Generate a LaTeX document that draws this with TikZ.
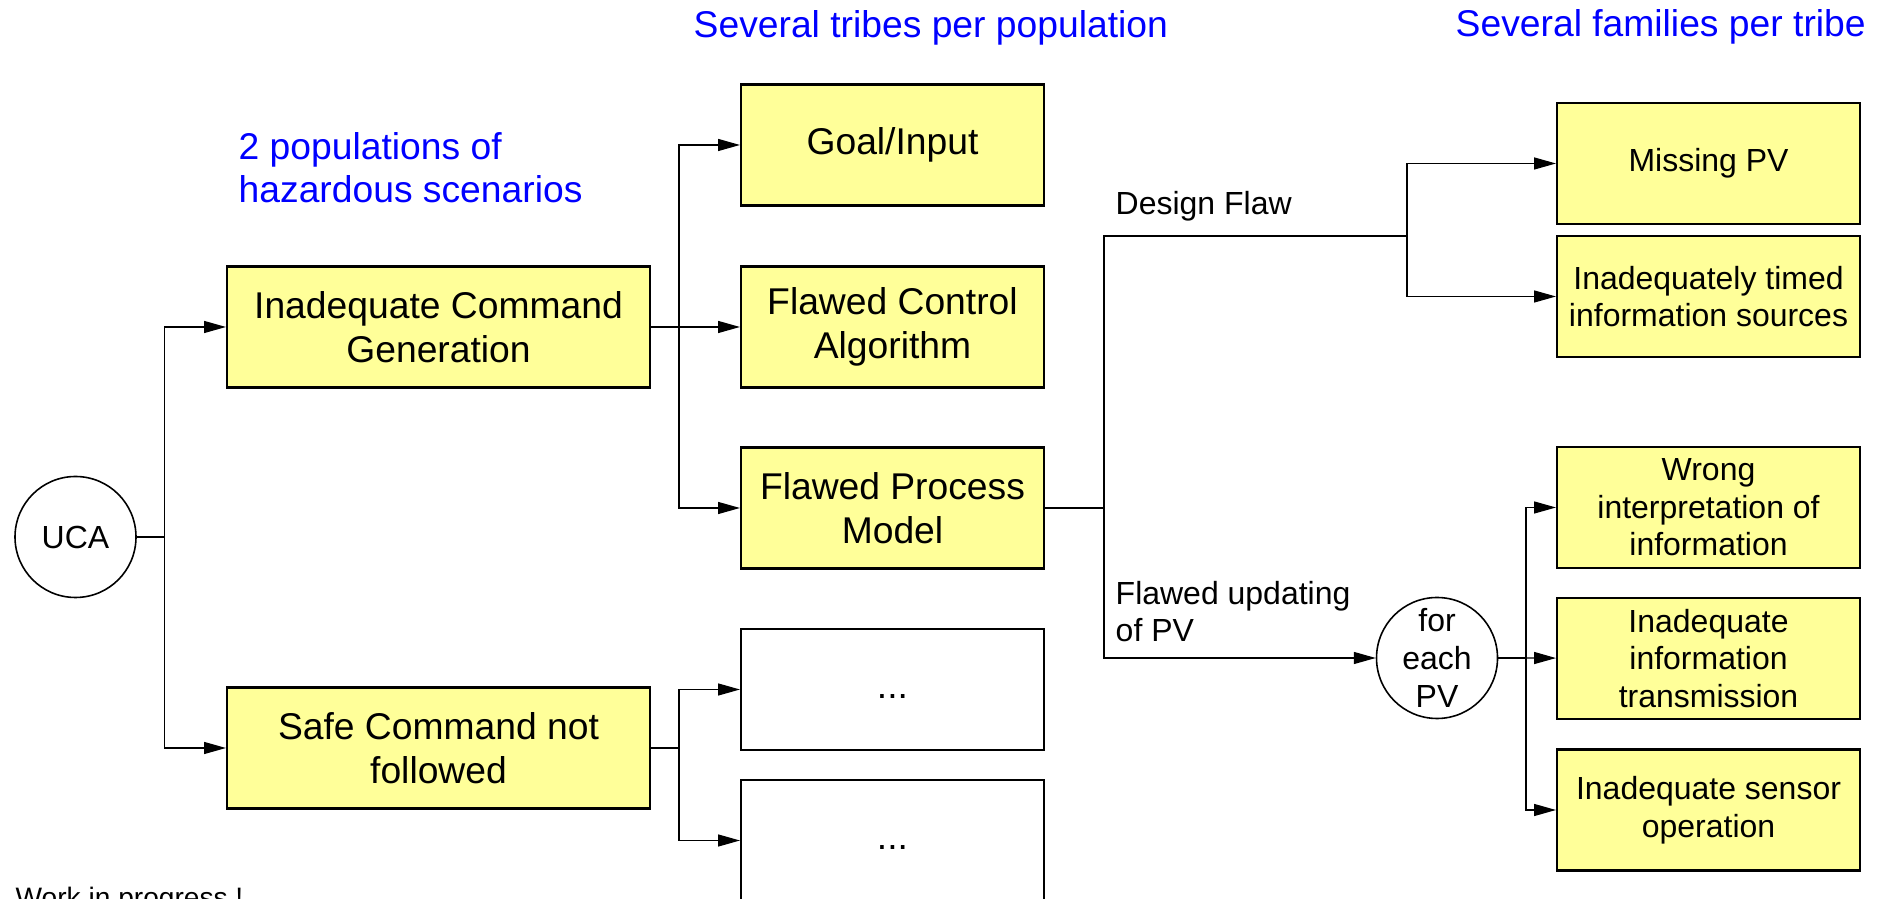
\documentclass[tikz,border=0pt]{standalone}
\usepackage{fontspec}
\setmainfont{Liberation Sans}
\usetikzlibrary{arrows.meta}
\definecolor{paleyellow}{RGB}{255,255,153}
\tikzset{
        link/.style={line width=0.35pt},
        flow/.style={link, -{Triangle[length=6.2pt,width=3.4pt]}},
        hub/.style={circle, draw=black, line width=0.45pt, minimum size=1.21cm, inner sep=0pt, align=center, font=\fontsize{9.1}{10.7}\selectfont},
        popbox/.style={draw=black, line width=0.6pt, fill=paleyellow, minimum width=4.23cm, minimum height=1.21cm, inner sep=0pt, align=center, font=\fontsize{10.6}{12.5}\selectfont},
        tribebox/.style={popbox, minimum width=3.03cm},
        emptybox/.style={tribebox, fill=white},
        familybox/.style={tribebox, font=\fontsize{9.1}{10.7}\selectfont},
        branch/.style={anchor=base west, inner sep=0pt, align=left, font=\fontsize{9.1}{10.7}\selectfont},
        caption/.style={anchor=base west, inner sep=0pt, text=blue, align=left, font=\fontsize{10.6}{12.5}\selectfont}
          }

\begin{document}
\begin{tikzpicture}
        \useasboundingbox (0,0) rectangle (18.83,-8.99);

        \node[caption] (poptitle) at (2.38,-2.03) {2 populations of\\hazardous scenarios};
        \node[caption] (tribetitle) at (6.93,-0.38) {Several tribes per population};
        \node[caption] (familytitle) at (14.55,-0.37) {Several families per tribe};

        \node[hub] (uca) at (0.755,-5.37) {UCA};

        \node[popbox] (icg) at (4.385,-3.27) {Inadequate Command\\Generation};
        \node[popbox] (scnf) at (4.385,-7.48) {Safe Command not\\followed};

        \node[tribebox] (goal) at (8.925,-1.45) {Goal/Input};
        \node[tribebox] (fca) at (8.925,-3.27) {Flawed Control\\Algorithm};
        \node[tribebox] (fpm) at (8.925,-5.08) {Flawed Process\\Model};
        \node[emptybox] (more1) at (8.925,-6.895) {\strut...};
        \node[emptybox] (more2) at (8.925,-8.405) {\strut...};

        \node[familybox] (missing) at (17.085,-1.635) {Missing PV};
        \node[familybox] (timed) at (17.085,-2.965) {Inadequately timed\\information sources};
        \node[hub] (eachpv) at (14.37,-6.58) {for\\each\\PV};
        \node[familybox] (wrong) at (17.085,-5.075) {Wrong\\interpretation of\\information};
        \node[familybox] (trans) at (17.085,-6.585) {Inadequate\\information\\transmission};
        \node[familybox] (sensor) at (17.085,-8.10) {Inadequate sensor\\operation};

        \node[branch] (design) at (11.15,-2.15) {Design Flaw};
        \node[branch] (updating) at (11.15,-6.42) {Flawed updating\\of PV};

        \node[anchor=base west, inner sep=0pt, font=\fontsize{8}{9.6}\selectfont] (wip) at (0.15,-9.08) {Work in progress !};

        \coordinate (j1) at (1.645,-5.37);
        \coordinate (j2) at (6.79,-3.27);
        \coordinate (j3) at (6.79,-7.48);
        \coordinate (j4) at (11.04,-5.08);
        \coordinate (j5) at (14.07,-2.36);
        \coordinate (j6) at (15.26,-6.58);

        \draw[link] (uca) -- (j1);
        \draw[flow] (j1) |- (icg);
        \draw[flow] (j1) |- (scnf);

        \draw[link] (icg) -- (j2);
        \draw[flow] (j2) |- (goal);
        \draw[flow] (j2) -- (fca);
        \draw[flow] (j2) |- (fpm);

        \draw[link] (scnf) -- (j3);
        \draw[flow] (j3) |- (more1);
        \draw[flow] (j3) |- (more2);

        \draw[link] (fpm) -- (j4);
        \draw[link] (j4) |- (j5);
        \draw[flow] (j5) |- (missing);
        \draw[flow] (j5) |- (timed);
        \draw[flow] (j4) |- (eachpv);

        \draw[link] (eachpv) -- (j6);
        \draw[flow] (j6) |- (wrong);
        \draw[flow] (j6) -- (trans);
        \draw[flow] (j6) |- (sensor);
\end{tikzpicture}
\end{document}
